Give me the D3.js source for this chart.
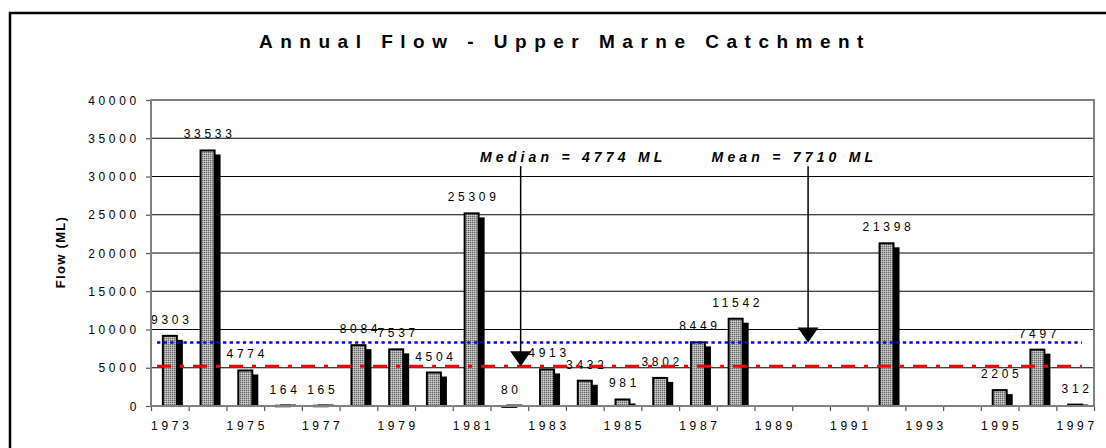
<!DOCTYPE html>
<html><head><meta charset="utf-8">
<script src="https://cdn.jsdelivr.net/npm/d3@7/dist/d3.min.js"></script>
<style>
body{margin:0;background:#fff}
svg{display:block}
text{font-family:"Liberation Sans",Arial,Helvetica,sans-serif;fill:#000}
</style>
</head><body>
<svg id="chart" width="1106" height="448"></svg>
<script>
// ---------- data ----------
const years = [1973,1974,1975,1976,1977,1978,1979,1980,1981,1982,1983,1984,1985,1986,1987,1988,1989,1990,1991,1992,1993,1994,1995,1996,1997];
const flows = [9303,33533,4774,164,165,8084,7537,4504,25309,80,4913,3432,981,3802,8449,11542,null,null,null,21398,null,null,2205,7497,312];
const yTicks = [0,5000,10000,15000,20000,25000,30000,35000,40000];
const xTickLabels = [1973,1975,1977,1979,1981,1983,1985,1987,1989,1991,1993,1995,1997];
const medianLineValue = 5200;
const meanLineValue = 8300;
const refLineExtent = [0.16, 24.68]; // in category units
const annotationTexts = ["Median = 4774 ML", "Mean = 7710 ML"];
const annotationTextPos = [8.72, 14.86];
const annotationArrowPos = [9.8, 17.42];
const annotationTargets = [medianLineValue, meanLineValue];
const annotationTextValue = 31900;
const annotationArrowTop = 31350;

// ---------- layout ----------
const svg = d3.select("#chart");
const L = 151, R = 1094, T = 100, B = 406;

const x = d3.scaleBand().domain(years).range([L, R]).padding(0);
const xBar = d3.scaleBand().domain(years).range([L, R]).paddingInner(0.576).paddingOuter(0.288);
const xLin = d3.scaleLinear().domain([0, years.length]).range([L, R]);
const y = d3.scaleLinear().domain([0, 40000]).range([B, T]);

// pattern for bars
const defs = svg.append("defs");
const pat = defs.append("pattern").attr("id","dots").attr("width",2).attr("height",2)
  .attr("patternUnits","userSpaceOnUse");
pat.append("rect").attr("width",2).attr("height",2).attr("fill","#a8a8a8");
pat.append("rect").attr("width",1).attr("height",1).attr("fill","#666");
pat.append("rect").attr("x",1).attr("y",1).attr("width",1).attr("height",1).attr("fill","#cfcfcf");

// outer frame
svg.append("rect").attr("x",10).attr("y",13).attr("width",1120).attr("height",460)
  .attr("fill","none").attr("stroke","#000").attr("stroke-width",2.5);

// title
svg.append("text").attr("x",565).attr("y",48).attr("text-anchor","middle")
  .style("font-size","19px").style("font-weight","bold").style("letter-spacing","7.5px")
  .text("Annual Flow - Upper Marne Catchment");

// gridlines
svg.append("g").selectAll("line").data(yTicks.filter(d=>d>0 && d<40000)).join("line")
  .attr("x1",L).attr("x2",R).attr("y1",d=>y(d)).attr("y2",d=>y(d))
  .attr("stroke","#000").attr("stroke-width",1);

// y axis
const yAxis = d3.axisLeft(y).tickValues(yTicks).tickSize(5).tickPadding(6).tickFormat(d3.format("d"));
const gy = svg.append("g").attr("transform",`translate(${L},0)`).call(yAxis);
gy.select(".domain").remove();
gy.selectAll(".tick line").attr("stroke","#555").attr("stroke-width",1.2);
gy.selectAll(".tick text").style("font-size","12px").style("letter-spacing","3.7px")
  .attr("font-family",null).attr("dy","0.35em");

// x axis
const xAxis = d3.axisBottom(xLin).tickValues(d3.range(0, years.length+1)).tickSize(5).tickFormat("");
const gx = svg.append("g").attr("transform",`translate(0,${B})`).call(xAxis);
gx.select(".domain").remove();
gx.selectAll(".tick line").attr("stroke","#555").attr("stroke-width",1.2);
svg.append("g").selectAll("text").data(xTickLabels).join("text")
  .attr("x",d=>x(d)+x.bandwidth()/2+2).attr("y",B+24).attr("text-anchor","middle")
  .style("font-size","12px").style("letter-spacing","3.7px").text(d=>d);

// y title
svg.append("text").attr("transform","translate(65,252) rotate(-90)").attr("text-anchor","middle")
  .style("font-size","13px").style("font-weight","bold").style("letter-spacing","1.3px").text("Flow (ML)");

// bars
const data = years.map((yr,i)=>({year:yr, value:flows[i]})).filter(d=>d.value!==null);
const bw = xBar.bandwidth();
const gb = svg.append("g");
gb.selectAll("rect.shadow").data(data).join("rect").attr("class","shadow")
  .attr("x",d=>xBar(d.year)+5).attr("y",d=>Math.min(y(d.value)+5,B-1.5))
  .attr("width",bw).attr("height",d=>Math.max(B-(y(d.value)+5),1.5)).attr("fill","#000");
gb.selectAll("rect.bar").data(data).join("rect").attr("class","bar")
  .attr("x",d=>xBar(d.year)+1).attr("y",d=>y(d.value)+1)
  .attr("width",bw-2).attr("height",d=>Math.max(B-y(d.value)-1,0.5))
  .attr("fill","url(#dots)").attr("stroke","#000").attr("stroke-width",2);

// data labels
svg.append("g").selectAll("text").data(data).join("text")
  .attr("x",d=>xBar(d.year)+bw/2+2).attr("y",d=>y(d.value)-11).attr("text-anchor","middle")
  .style("font-size","12px").style("letter-spacing","3.7px").text(d=>d.value);

// plot frame
svg.append("rect").attr("x",L).attr("y",T).attr("width",R-L).attr("height",B-T)
  .attr("fill","none").attr("stroke","#808080").attr("stroke-width",2);

// reference lines
svg.append("line").attr("x1",xLin(refLineExtent[0])).attr("x2",xLin(refLineExtent[1]))
  .attr("y1",y(meanLineValue)).attr("y2",y(meanLineValue))
  .attr("stroke","#0000ff").attr("stroke-width",2.5).attr("stroke-dasharray","3.3,3.3");
svg.append("line").attr("x1",xLin(refLineExtent[0])).attr("x2",xLin(refLineExtent[1]))
  .attr("y1",y(medianLineValue)).attr("y2",y(medianLineValue))
  .attr("stroke","#ff0000").attr("stroke-width",3).attr("stroke-dasharray","14,9,4,9");

// annotations
annotationTexts.forEach((t,i)=>{
  svg.append("text").attr("x",xLin(annotationTextPos[i])).attr("y",y(annotationTextValue))
    .style("font-size","14px").style("font-weight","bold").style("font-style","italic")
    .style("letter-spacing","4.2px").text(t);
  const ax = xLin(annotationArrowPos[i]);
  const tipY = y(annotationTargets[i]);
  svg.append("line").attr("x1",ax).attr("x2",ax).attr("y1",y(annotationArrowTop)).attr("y2",tipY-14)
    .attr("stroke","#000").attr("stroke-width",1.5);
  svg.append("path").attr("d",`M${ax-10.5},${tipY-15}L${ax+10.5},${tipY-15}L${ax},${tipY}Z`).attr("fill","#000");
});
</script>
</body></html>
